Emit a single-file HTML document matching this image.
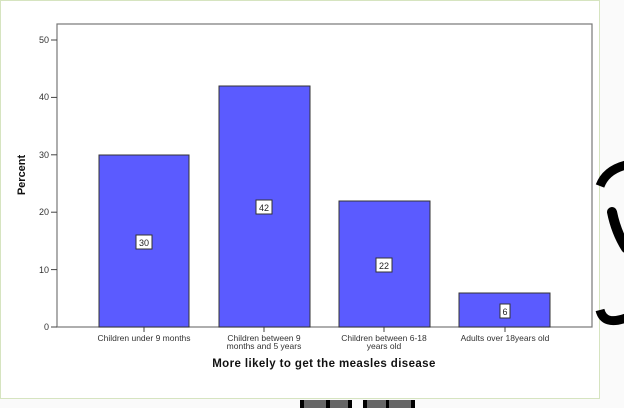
<!DOCTYPE html>
<html><head><style>
body{margin:0;width:624px;height:408px;overflow:hidden;background:#fafafa;font-family:"Liberation Sans",sans-serif;position:relative}
</style></head><body>
<svg width="624" height="408" style="position:absolute;left:0;top:0">
<rect x="0.5" y="0.5" width="599" height="398" fill="#fff" stroke="#d6e4c0"/>
<rect x="57" y="24" width="535" height="303" fill="#fff" stroke="#777" stroke-width="1.2"/>
<g stroke="#444" stroke-width="1">
<line x1="51" y1="40" x2="57" y2="40"/><line x1="51" y1="97.4" x2="57" y2="97.4"/><line x1="51" y1="154.8" x2="57" y2="154.8"/><line x1="51" y1="212.2" x2="57" y2="212.2"/><line x1="51" y1="269.6" x2="57" y2="269.6"/><line x1="51" y1="327" x2="57" y2="327"/>
<line x1="144" y1="327" x2="144" y2="332"/><line x1="264" y1="327" x2="264" y2="332"/><line x1="384" y1="327" x2="384" y2="332"/><line x1="505" y1="327" x2="505" y2="332"/>
</g>
<g font-size="9" fill="#333" text-anchor="end">
<text x="49" y="43">50</text><text x="49" y="100">40</text><text x="49" y="158">30</text><text x="49" y="215">20</text><text x="49" y="273">10</text><text x="49" y="330">0</text>
</g>
<g fill="#5b5bff" stroke="#333" stroke-width="1">
<rect x="99" y="155" width="90" height="172"/>
<rect x="219" y="86" width="91" height="241"/>
<rect x="339" y="201" width="91" height="126"/>
<rect x="459" y="293" width="91" height="34"/>
</g>
<g fill="#fff" stroke="#333" stroke-width="1">
<rect x="136" y="235" width="16" height="14"/><rect x="256" y="200" width="16" height="14"/><rect x="376" y="258" width="16" height="14"/><rect x="500" y="304" width="10" height="14"/>
</g>
<g font-size="9" fill="#222" text-anchor="middle">
<text x="144" y="246">30</text><text x="264" y="211">42</text><text x="384" y="269">22</text><text x="505" y="315">6</text>
</g>
<g font-size="8.5" fill="#333" text-anchor="middle">
<text x="144" y="341">Children under 9 months</text>
<text x="264" y="341">Children between 9</text><text x="264" y="349">months and 5 years</text>
<text x="384" y="341">Children between 6-18</text><text x="384" y="349">years old</text>
<text x="505" y="341">Adults over 18years old</text>
</g>
<text x="324" y="367" font-size="11.5" font-weight="bold" text-anchor="middle" fill="#111" letter-spacing="0.4">More likely to get the measles disease</text>
<text transform="translate(25,175) rotate(-90)" font-size="11" font-weight="bold" text-anchor="middle" fill="#111">Percent</text>
<path d="M600 186 Q606 170 626 165" stroke="#000" stroke-width="9" fill="none"/>
<path d="M612 212 Q616 232 626 248" stroke="#000" stroke-width="10" stroke-linecap="round" fill="none"/>
<path d="M600 310 Q604 326 626 318" stroke="#000" stroke-width="9" fill="none"/>
<rect x="300" y="400" width="52" height="8" fill="#666"/><rect x="300" y="400" width="4" height="8" fill="#000"/><rect x="326" y="400" width="4" height="8" fill="#000"/><rect x="348" y="400" width="4" height="8" fill="#000"/>
<rect x="363" y="400" width="52" height="8" fill="#666"/><rect x="363" y="400" width="4" height="8" fill="#000"/><rect x="386" y="400" width="3" height="8" fill="#000"/><rect x="411" y="400" width="4" height="8" fill="#000"/>
</svg>
</body></html>
